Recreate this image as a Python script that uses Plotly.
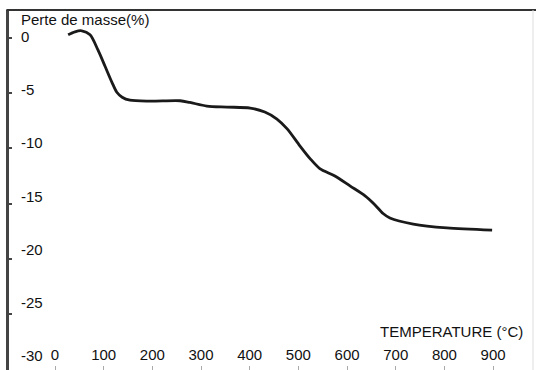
import plotly.graph_objects as go

# Data (TGA curve)
temperature = [27, 41, 55, 72, 88, 103, 117, 127, 138, 154, 195, 257, 277, 312, 353, 401,
               431, 456, 477, 503, 524, 544, 575, 606, 637, 657, 674, 688, 736, 805, 898]
mass_loss = [0.27, 0.54, 0.63, 0.27, -1.08, -2.6, -4.03, -4.93, -5.38, -5.65, -5.73, -5.7,
             -5.85, -6.18, -6.27, -6.36, -6.72, -7.35, -8.24, -9.77, -10.93, -11.83, -12.5,
             -13.4, -14.3, -15.1, -15.9, -16.3, -16.85, -17.2, -17.4]
x_ticks = [0, 100, 200, 300, 400, 500, 600, 700, 800, 900]
y_ticks = [0, -5, -10, -15, -20, -25, -30]
y_title = "Perte de masse(%)"
x_title = "TEMPERATURE (°C)"

font = dict(family="Arial, Liberation Sans, sans-serif", size=15, color="#111")

fig = go.Figure()
fig.add_trace(go.Scatter(
    x=temperature, y=mass_loss, mode="lines",
    line=dict(color="#1a1a1a", width=2.8, shape="spline", smoothing=0.8),
    hoverinfo="skip", showlegend=False,
))

# y tick labels drawn inside the frame, placed on the y axis scale
# (the scanned original shows labels drifting slightly above their ticks toward the bottom)
y_label_annotations = [
    dict(text=str(v), xref="paper", yref="y", x=0, y=v, xanchor="left", yanchor="middle",
         xshift=10, yshift=1 + 2.2 * i, showarrow=False, font=font)
    for i, v in enumerate(y_ticks)
]

fig.update_layout(
    width=536, height=370,
    margin=dict(l=9, r=3, t=10, b=0),
    paper_bgcolor="white", plot_bgcolor="white",
    font=font,
    xaxis=dict(
        range=[-94.5, 982], tickvals=x_ticks, ticktext=[str(v) for v in x_ticks],
        showgrid=False, zeroline=False, showline=False,
        ticks="inside", ticklen=4, tickwidth=1, tickcolor="#aaa",
        ticklabelposition="inside", ticklabelstandoff=3, tickfont=font,
    ),
    yaxis=dict(
        range=[-30.05, 2.51], tickvals=y_ticks, showticklabels=False,
        showgrid=False, zeroline=False,
        showline=True, linewidth=2.5, linecolor="#444",
        ticks="inside", ticklen=3, tickwidth=2, tickcolor="#444",
    ),
    shapes=[
        dict(type="line", xref="paper", yref="paper", x0=-0.005, x1=1.01, y0=1, y1=1,
             line=dict(color="#333", width=2)),
        dict(type="line", xref="paper", yref="paper", x0=1, x1=1, y0=0, y1=1,
             line=dict(color="#ddd", width=1)),
    ],
    annotations=[
        dict(text=y_title, xref="paper", yref="paper", x=0.019, y=0.975,
             xanchor="left", yanchor="middle", showarrow=False, font=font),
        dict(text=x_title, xref="paper", yref="paper", x=0.704, y=0.106,
             xanchor="left", yanchor="middle", showarrow=False, font=font),
    ] + y_label_annotations,
)

fig.write_html("out.html")
